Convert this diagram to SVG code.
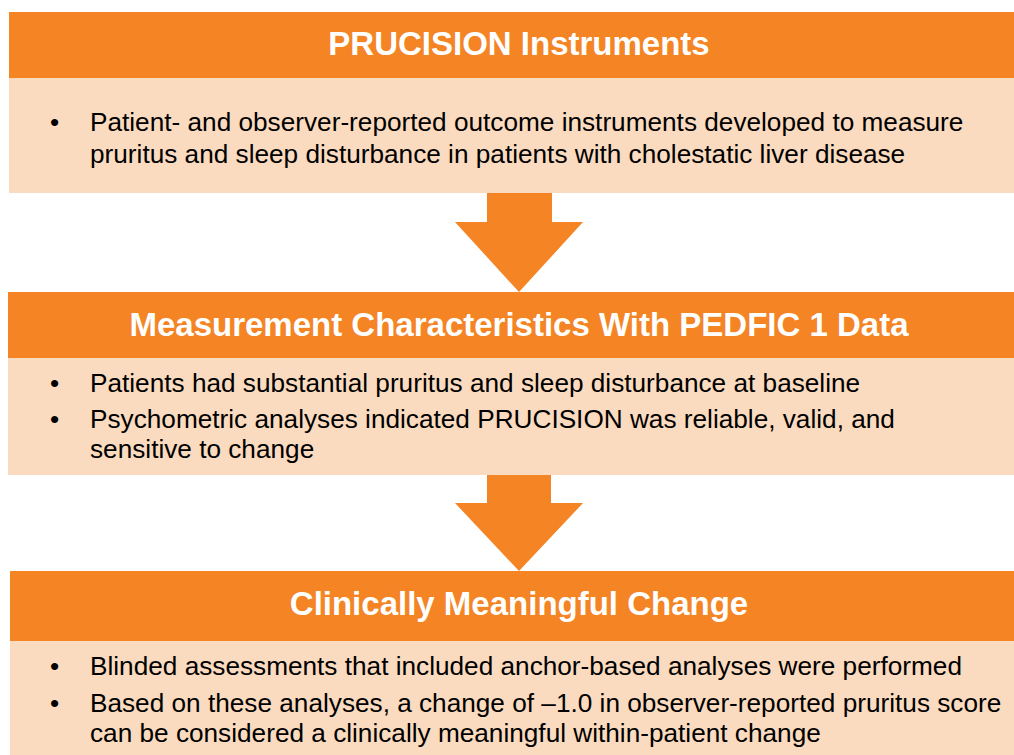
<svg xmlns="http://www.w3.org/2000/svg" width="1014" height="755" viewBox="0 0 1014 755">
  <style>
    .head { fill: #F48424; }
    .body { fill: #FBDBBF; }
    .arrow { fill: #F48424; }
    .title { font-family: "Liberation Sans", Arial, sans-serif; font-weight: bold; font-size: 33px; fill: #FFFFFF; text-anchor: middle; }
    .txt { font-family: "Liberation Sans", Arial, sans-serif; font-size: 26.2px; fill: #000000; }
  </style>
  <rect width="1014" height="755" fill="#FFFFFF"/>

  <!-- Step 1 -->
  <g id="instruments">
    <rect class="head" x="9" y="12" width="1005" height="66"/>
    <rect class="body" x="9" y="78" width="1005" height="115"/>
    <text class="title" x="519" y="55">PRUCISION Instruments</text>
    <text class="txt" x="50" y="131">•</text>
    <text class="txt" x="90" y="131">Patient- and observer-reported outcome instruments developed to measure</text>
    <text class="txt" x="90" y="163">pruritus and sleep disturbance in patients with cholestatic liver disease</text>
  </g>

  <!-- Step 2 -->
  <g id="measurement">
    <rect class="head" x="8" y="292" width="1006" height="66"/>
    <rect class="body" x="8" y="358" width="1006" height="117"/>
    <text class="title" x="519" y="336">Measurement Characteristics With PEDFIC 1 Data</text>
    <text class="txt" x="50" y="392">•</text>
    <text class="txt" x="90" y="392">Patients had substantial pruritus and sleep disturbance at baseline</text>
    <text class="txt" x="50" y="428">•</text>
    <text class="txt" x="90" y="428">Psychometric analyses indicated PRUCISION was reliable, valid, and</text>
    <text class="txt" x="90" y="458">sensitive to change</text>
  </g>

  <!-- Step 3 -->
  <g id="meaningful-change">
    <rect class="head" x="10" y="571" width="1004" height="70"/>
    <rect class="body" x="10" y="641" width="1004" height="114"/>
    <text class="title" x="519" y="615">Clinically Meaningful Change</text>
    <text class="txt" x="50" y="675">•</text>
    <text class="txt" x="90" y="675">Blinded assessments that included anchor-based analyses were performed</text>
    <text class="txt" x="50" y="712">•</text>
    <text class="txt" x="90" y="712">Based on these analyses, a change of –1.0 in observer-reported pruritus score</text>
    <text class="txt" x="90" y="742">can be considered a clinically meaningful within-patient change</text>
  </g>

  <!-- Block arrows between steps -->
  <g id="connectors">
    <polygon class="arrow" points="487,193 552,193 552,222 583,222 519,292 455,222 487,222"/>
    <polygon class="arrow" points="487,475 551,475 551,503 583,503 519,571 455,503 487,503"/>
  </g>
</svg>
